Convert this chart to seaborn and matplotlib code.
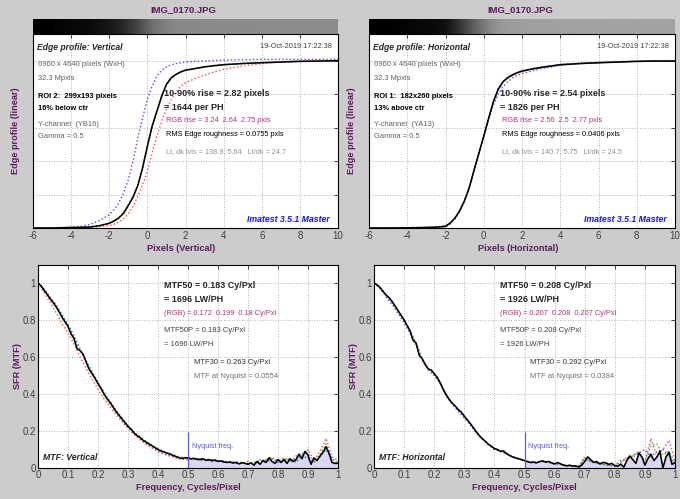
import numpy as np
import pandas as pd
import matplotlib
matplotlib.use("Agg")
import matplotlib.pyplot as plt
import seaborn as sns

W, H = 680, 499

# ---- edge profile data (pixels vs. normalized level) ----
edge_x = [-6, -5, -4, -3.5, -3, -2.5, -2, -1.75, -1.5, -1.25, -1, -0.75, -0.5, -0.25, 0,
          0.25, 0.5, 0.75, 1, 1.25, 1.5, 1.75, 2, 2.5, 3, 3.5, 4, 5, 6, 7, 8, 9, 10]

edge_vert_black = [0, 0, 0.003, 0.004, 0.006, 0.014, 0.028, 0.042, 0.06, 0.088, 0.135, 0.185,
                   0.255, 0.36, 0.49, 0.61, 0.70, 0.79, 0.86, 0.9, 0.92, 0.935, 0.945, 0.955,
                   0.965, 0.972, 0.978, 0.985, 0.99, 0.994, 0.998, 1.0, 1.002]
edge_vert_green = [0, 0, 0.003, 0.004, 0.007, 0.015, 0.03, 0.044, 0.063, 0.092, 0.14, 0.19,
                   0.26, 0.365, 0.49, 0.605, 0.695, 0.785, 0.855, 0.895, 0.918, 0.935, 0.945, 0.956,
                   0.966, 0.973, 0.979, 0.986, 0.99, 0.994, 0.998, 1.0, 1.002]
edge_vert_blue = [0, 0, 0.004, 0.01, 0.022, 0.045, 0.08, 0.11, 0.15, 0.21, 0.29, 0.4,
                  0.54, 0.66, 0.77, 0.85, 0.91, 0.945, 0.965, 0.978, 0.985, 0.99, 0.994, 0.998,
                  1.0, 1.003, 1.005, 1.008, 1.01, 1.01, 1.01, 1.01, 1.01]
edge_vert_red = [0, 0, 0.002, 0.003, 0.004, 0.008, 0.015, 0.022, 0.035, 0.055, 0.085, 0.13,
                 0.19, 0.26, 0.34, 0.45, 0.55, 0.64, 0.71, 0.77, 0.815, 0.85, 0.87, 0.895,
                 0.915, 0.935, 0.95, 0.97, 0.985, 0.995, 1.0, 1.0, 1.0]

edge_horz_black = [0, 0, 0.001, 0.002, 0.003, 0.005, 0.01, 0.03, 0.06, 0.105, 0.165, 0.245,
                   0.35, 0.45, 0.55, 0.655, 0.755, 0.83, 0.875, 0.9, 0.917, 0.93, 0.94, 0.952,
                   0.962, 0.97, 0.978, 0.985, 0.99, 0.994, 0.998, 1.0, 1.0]
edge_horz_red = [0, 0, 0.001, 0.002, 0.003, 0.006, 0.012, 0.032, 0.062, 0.108, 0.168, 0.248,
                 0.352, 0.452, 0.552, 0.655, 0.752, 0.825, 0.872, 0.898, 0.915, 0.928, 0.938, 0.95,
                 0.96, 0.968, 0.976, 0.984, 0.99, 0.994, 0.998, 1.0, 1.0]
edge_horz_green = [0, 0, 0.001, 0.002, 0.003, 0.005, 0.011, 0.031, 0.061, 0.106, 0.166, 0.246,
                   0.351, 0.451, 0.551, 0.656, 0.757, 0.832, 0.877, 0.902, 0.919, 0.932, 0.942, 0.954,
                   0.964, 0.972, 0.98, 0.987, 0.992, 0.996, 1.0, 1.002, 1.002]
edge_horz_blue = [0, 0, 0.001, 0.002, 0.003, 0.004, 0.008, 0.025, 0.055, 0.1, 0.16, 0.24,
                  0.345, 0.445, 0.545, 0.645, 0.735, 0.8, 0.845, 0.875, 0.9, 0.915, 0.925, 0.94,
                  0.955, 0.965, 0.975, 0.985, 0.99, 0.995, 0.998, 1.0, 1.0]

# ---- MTF data: black every 0.01 cy/px, channels every 0.02 cy/px ----
mtf_vert_black = [
    1.000, 0.985, 0.96, 0.94, 0.915, 0.895, 0.872, 0.845, 0.815, 0.79,
    0.765, 0.725, 0.70, 0.645, 0.635, 0.615, 0.575, 0.535, 0.51, 0.485,
    0.455, 0.43, 0.40, 0.375, 0.355, 0.33, 0.305, 0.285, 0.265, 0.245,
    0.225, 0.21, 0.19, 0.175, 0.165, 0.15, 0.14, 0.13, 0.12, 0.11,
    0.10, 0.092, 0.087, 0.08, 0.075, 0.068, 0.062, 0.055, 0.052, 0.055,
    0.055, 0.050, 0.052, 0.048, 0.046, 0.05, 0.042, 0.045, 0.04, 0.043,
    0.036, 0.038, 0.033, 0.03, 0.032, 0.027, 0.03, 0.022, 0.028, 0.025,
    0.02, 0.028, 0.015, 0.035, 0.02, 0.04, 0.03, 0.055, 0.035, 0.025,
    0.045, 0.03, 0.045, 0.025, 0.05, 0.035, 0.045, 0.075, 0.05, 0.09,
    0.07, 0.02, 0.055, 0.04, 0.065, 0.085, 0.115, 0.08, 0.03, 0.025,
    0.025]
mtf_vert_red = [
    1.0, 0.95, 0.895, 0.84, 0.78, 0.73, 0.67, 0.6, 0.54, 0.48,
    0.425, 0.375, 0.33, 0.29, 0.25, 0.215, 0.18, 0.155, 0.13, 0.11,
    0.09, 0.075, 0.065, 0.055, 0.045, 0.05, 0.045, 0.05, 0.04, 0.045,
    0.035, 0.04, 0.03, 0.035, 0.025, 0.035, 0.02, 0.045, 0.04, 0.06,
    0.035, 0.055, 0.03, 0.065, 0.06, 0.1, 0.04, 0.09, 0.16, 0.06,
    0.04]
mtf_vert_green = [
    1.0, 0.965, 0.92, 0.875, 0.82, 0.77, 0.705, 0.64, 0.58, 0.52,
    0.465, 0.41, 0.36, 0.315, 0.27, 0.23, 0.195, 0.17, 0.145, 0.125,
    0.105, 0.09, 0.078, 0.065, 0.058, 0.055, 0.05, 0.05, 0.045, 0.045,
    0.04, 0.035, 0.03, 0.03, 0.03, 0.025, 0.03, 0.035, 0.045, 0.05,
    0.04, 0.05, 0.04, 0.05, 0.08, 0.08, 0.035, 0.07, 0.13, 0.05,
    0.03]
mtf_vert_blue = [
    1.0, 0.97, 0.925, 0.885, 0.83, 0.775, 0.715, 0.645, 0.58, 0.52,
    0.46, 0.4, 0.35, 0.305, 0.26, 0.22, 0.185, 0.155, 0.13, 0.11,
    0.09, 0.078, 0.065, 0.055, 0.05, 0.045, 0.05, 0.04, 0.045, 0.035,
    0.04, 0.03, 0.035, 0.025, 0.03, 0.02, 0.03, 0.04, 0.03, 0.05,
    0.03, 0.04, 0.05, 0.03, 0.07, 0.05, 0.03, 0.06, 0.1, 0.05,
    0.02]

mtf_horz_black = [
    1.000, 0.99, 0.975, 0.955, 0.935, 0.92, 0.9, 0.875, 0.85, 0.825,
    0.80, 0.77, 0.74, 0.69, 0.675, 0.61, 0.59, 0.56, 0.535, 0.53,
    0.51, 0.49, 0.46, 0.425, 0.395, 0.37, 0.35, 0.335, 0.315, 0.302,
    0.28, 0.26, 0.24, 0.218, 0.195, 0.175, 0.158, 0.145, 0.128, 0.118,
    0.105, 0.1, 0.09, 0.092, 0.078, 0.068, 0.06, 0.055, 0.05, 0.045,
    0.04, 0.035, 0.03, 0.032, 0.028, 0.035, 0.038, 0.032, 0.035, 0.028,
    0.022, 0.03, 0.022, 0.015, 0.012, 0.015, 0.01, 0.012, 0.005, 0.015,
    0.035, 0.06, 0.045, 0.03, 0.035, 0.022, 0.03, 0.028, 0.02, 0.025,
    0.012, 0.01, 0.02, 0.005, 0.04, 0.065, 0.045, 0.025, 0.08, 0.06,
    0.015, 0.05, 0.075, 0.04, 0.06, 0.09, 0.0, 0.06, 0.085, 0.02,
    0.03]
mtf_horz_red = [
    1.0, 0.975, 0.935, 0.9, 0.85, 0.8, 0.74, 0.675, 0.59, 0.535,
    0.505, 0.46, 0.395, 0.35, 0.315, 0.28, 0.24, 0.195, 0.158, 0.128,
    0.105, 0.09, 0.078, 0.06, 0.05, 0.04, 0.03, 0.028, 0.038, 0.035,
    0.022, 0.022, 0.012, 0.01, 0.005, 0.06, 0.035, 0.03, 0.02, 0.015,
    0.015, 0.03, 0.05, 0.07, 0.09, 0.03, 0.16, 0.06, 0.1, 0.15,
    0.04]
mtf_horz_green = [
    1.0, 0.975, 0.935, 0.9, 0.85, 0.8, 0.74, 0.675, 0.595, 0.535,
    0.51, 0.46, 0.395, 0.35, 0.315, 0.28, 0.24, 0.195, 0.158, 0.128,
    0.105, 0.09, 0.078, 0.06, 0.05, 0.04, 0.03, 0.03, 0.038, 0.03,
    0.022, 0.02, 0.012, 0.01, 0.01, 0.055, 0.035, 0.028, 0.02, 0.012,
    0.02, 0.025, 0.06, 0.065, 0.085, 0.04, 0.12, 0.13, 0.07, 0.09,
    0.03]
mtf_horz_blue = [
    1.0, 0.97, 0.925, 0.885, 0.835, 0.785, 0.725, 0.665, 0.585, 0.53,
    0.5, 0.455, 0.39, 0.345, 0.305, 0.27, 0.232, 0.19, 0.155, 0.125,
    0.1, 0.09, 0.078, 0.06, 0.05, 0.04, 0.03, 0.03, 0.035, 0.03,
    0.022, 0.02, 0.015, 0.01, 0.01, 0.05, 0.035, 0.025, 0.02, 0.015,
    0.01, 0.04, 0.05, 0.06, 0.08, 0.1, 0.06, 0.09, 0.1, 0.07,
    0.02]

edge_ticks = [-6, -4, -2, 0, 2, 4, 6, 8, 10]
mtf_xticks = [0, 0.1, 0.2, 0.3, 0.4, 0.5, 0.6, 0.7, 0.8, 0.9, 1]
mtf_yticks = [0, 0.2, 0.4, 0.6, 0.8, 1]
nyquist = 0.5

# ---- text blocks ----
file_title = "IMG_0170.JPG"
date_str = "19-Oct-2019 17:22:38"
vert_info = ["6960 x 4640 pixels (WxH)", "32.3 Mpxls", "ROI 2:  299x193 pixels", "16% below ctr",
             "Y-channel  (YB16)", "Gamma = 0.5"]
horz_info = ["6960 x 4640 pixels (WxH)", "32.3 Mpxls", "ROI 1:  182x260 pixels", "13% above ctr",
             "Y-channel  (YA13)", "Gamma = 0.5"]
vert_rise = ["10-90% rise = 2.82 pixels", "= 1644 per PH", "RGB rise = 3.24  2.64  2.75 pxls",
             "RMS Edge roughness = 0.0755 pxls", "Lt, dk lvls = 138.9, 5.64   Lt/dk = 24.7"]
horz_rise = ["10-90% rise = 2.54 pixels", "= 1826 per PH", "RGB rise = 2.56  2.5  2.77 pxls",
             "RMS Edge roughness = 0.0406 pxls", "Lt, dk lvls = 140.7, 5.75   Lt/dk = 24.5"]
vert_mtf = ["MTF50 = 0.183 Cy/Pxl", "= 1696 LW/PH", "(RGB) = 0.172  0.199  0.18 Cy/Pxl",
            "MTF50P = 0.183 Cy/Pxl", "= 1696 LW/PH", "MTF30 = 0.263 Cy/Pxl", "MTF at Nyquist = 0.0554"]
horz_mtf = ["MTF50 = 0.208 Cy/Pxl", "= 1926 LW/PH", "(RGB) = 0.207  0.208  0.207 Cy/Pxl",
            "MTF50P = 0.208 Cy/Pxl", "= 1926 LW/PH", "MTF30 = 0.292 Cy/Pxl", "MTF at Nyquist = 0.0384"]

sns.set_style("white")
plt.rcParams["font.family"] = ["Liberation Sans", "DejaVu Sans"]
plt.rcParams["axes.unicode_minus"] = False

PURPLE = "#5c1a5c"
MAGENTA = "#b4307f"
BG = "#cccccc"

fig = plt.figure(figsize=(6.8, 4.99), dpi=100, facecolor=BG)


def box(l, t, r, b):
    return [l / W, 1 - b / H, (r - l) / W, (b - t) / H]


def ptext(x, y, s, **kw):
    kw.setdefault("va", "center")
    fig.text(x / W, 1 - y / H, s, **kw)


def style_axes(ax):
    ax.set_facecolor("white")
    ax.grid(True, color="#b4b4b4", linestyle=":", linewidth=0.7)
    ax.tick_params(direction="in", top=True, right=True, length=3, width=0.6,
                   labelsize=7, labelcolor="#404040", pad=2)
    for sp in ax.spines.values():
        sp.set_color("black")
        sp.set_linewidth(0.8)
    ax.set_xlabel("")
    ax.set_ylabel("")


def channel_lines(ax, x, red, green, blue, black, lw_black):
    for vals, c in [(blue, "#4a4aff"), (red, "#ff4a4a"), (green, "#2cc02c")]:
        sns.lineplot(x=x, y=vals, ax=ax, color=c, linestyle=":", linewidth=1.0)
    sns.lineplot(x=x, y=black, ax=ax, color="black", linewidth=lw_black)


def edge_panel(l, r, black, red, green, blue, gscale, name, info, rise):
    # gradient strip showing the edge (gamma 0.5)
    axg = fig.add_axes(box(l, 19, r, 34))
    xs = np.linspace(-6, 10, 500)
    lvl = np.clip(np.interp(xs, edge_x, black), 0, 1)
    axg.imshow((gscale * np.sqrt(lvl))[None, :], cmap="gray", vmin=0, vmax=1,
               aspect="auto", extent=(-6, 10, 0, 1))
    axg.axis("off")

    ax = fig.add_axes(box(l, 34, r, 228))
    channel_lines(ax, edge_x, red, green, blue, black, 1.15)
    ax.set_xlim(-6, 10)
    ax.set_ylim(0, 1.162)
    ax.set_xticks(edge_ticks)
    ax.set_yticks(mtf_yticks)
    style_axes(ax)
    ax.tick_params(labelleft=False)

    ptext((l + r) / 2 - 2, 10, file_title, ha="center", fontsize=6.8, fontweight="bold", color=PURPLE)
    ptext(l - 18, 131, "Edge profile (linear)", rotation=90, ha="center", fontsize=6.6,
          fontweight="bold", color=PURPLE)
    ptext((l + r) / 2 - 4, 248, f"Pixels ({name})", ha="center", fontsize=6.6,
          fontweight="bold", color=PURPLE)

    ptext(l + 4, 47, f"Edge profile: {name}", fontsize=6.2, fontweight="bold", style="italic")
    ptext(r - 6, 47, date_str, ha="right", fontsize=5.3, color="#404040")
    ys = [65, 79, 96, 108, 124, 136]
    for s, y in zip(info, ys):
        bold = s.startswith("ROI") or "ctr" in s
        ptext(l + 5, y, s, fontsize=5.4, fontweight="bold" if bold else "normal",
              color="black" if bold else "#606060")
    rx = l + 131
    ptext(rx, 94, rise[0], fontsize=6.5, fontweight="bold")
    ptext(rx, 108, rise[1], fontsize=6.5, fontweight="bold")
    ptext(rx + 2, 121, rise[2], fontsize=5.3, color=MAGENTA)
    ptext(rx + 2, 134.5, rise[3], fontsize=5.3, color="black")
    ptext(rx + 2, 152, rise[4], fontsize=5.3, color="#929292")
    ptext(r - 8, 219, "Imatest 3.5.1 Master", ha="right", fontsize=6.3, fontweight="bold",
          style="italic", color="#1818e8")


def mtf_panel(l, r, black, red, green, blue, name, lines):
    ax = fig.add_axes(box(l, 265, r, 468))
    f_fine = np.linspace(0, 1, len(black))
    f_coarse = np.linspace(0, 1, len(red))
    black = np.array(black)
    above = f_fine >= nyquist
    ax.fill_between(f_fine[above], 0, black[above], color="#d8d8f4", linewidth=0)
    for vals, c in [(blue, "#4a4aff"), (red, "#ff4a4a"), (green, "#2cc02c")]:
        sns.lineplot(x=f_coarse, y=vals, ax=ax, color=c, linestyle=":", linewidth=1.0)
    sns.lineplot(x=f_fine, y=black, ax=ax, color="black", linewidth=1.15)
    ax.vlines(nyquist, 0, 0.196, color="#5a5ad2", linewidth=0.9)
    ax.text(nyquist + 0.013, 0.115, "Nyquist freq.", fontsize=5.3, color="#5a5ad2", va="center")
    ax.set_xlim(0, 1)
    ax.set_ylim(0, 1.097)
    ax.set_xticks(mtf_xticks)
    ax.set_yticks(mtf_yticks)
    ax.set_xticklabels([f"{v:g}" for v in mtf_xticks])
    ax.set_yticklabels([f"{v:g}" for v in mtf_yticks])
    style_axes(ax)
    ax.tick_params(pad=1.5)

    ptext(l - 21, 366, "SFR (MTF)", rotation=90, ha="center", fontsize=6.6,
          fontweight="bold", color=PURPLE)
    ptext((l + r) / 2, 488, "Frequency, Cycles/Pixel", ha="center", fontsize=6.6,
          fontweight="bold", color=PURPLE)
    ptext(l + 5, 457, f"MTF: {name}", fontsize=6.3, fontweight="bold", style="italic")

    tx = l + 126
    ptext(tx, 285, lines[0], fontsize=6.5, fontweight="bold")
    ptext(tx, 299, lines[1], fontsize=6.5, fontweight="bold")
    ptext(tx, 313.5, lines[2], fontsize=5.3, color=MAGENTA)
    ptext(tx, 331, lines[3], fontsize=5.5, color="#404040")
    ptext(tx, 345, lines[4], fontsize=5.5, color="#404040")
    ptext(tx + 30, 362, lines[5], fontsize=5.5, color="#303030")
    ptext(tx + 30, 377, lines[6], fontsize=5.5, color="#707070")


edge_panel(33, 338, edge_vert_black, edge_vert_red, edge_vert_green, edge_vert_blue,
           0.55, "Vertical", vert_info, vert_rise)
edge_panel(369, 675, edge_horz_black, edge_horz_red, edge_horz_green, edge_horz_blue,
           0.64, "Horizontal", horz_info, horz_rise)
mtf_panel(38, 338, mtf_vert_black, mtf_vert_red, mtf_vert_green, mtf_vert_blue,
          "Vertical", vert_mtf)
mtf_panel(374, 675, mtf_horz_black, mtf_horz_red, mtf_horz_green, mtf_horz_blue,
          "Horizontal", horz_mtf)

fig.savefig("out.png", dpi=100, facecolor=BG)
